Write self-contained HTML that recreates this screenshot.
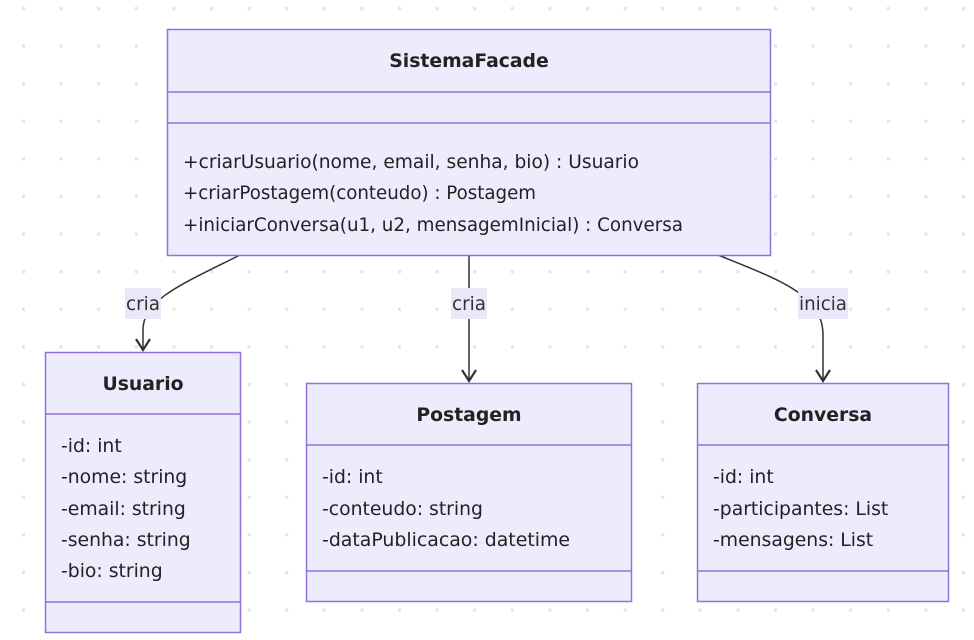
<!DOCTYPE html>
<html><head><meta charset="utf-8"><style>
html,body{margin:0;padding:0;background:#fff;}
svg{display:block;}
text{font-family:"DejaVu Sans","Liberation Sans",sans-serif;font-size:18.8px;fill:#222;}
.t{font-weight:bold;text-anchor:middle;}
.lbl{text-anchor:middle;fill:#333;}
</style></head><body>
<svg width="974" height="640" viewBox="0 0 974 640" xmlns="http://www.w3.org/2000/svg">
<defs>
<pattern id="dots" x="22" y="0" width="37.6" height="37.6" patternUnits="userSpaceOnUse">
<rect x="0" y="7" width="3" height="3" fill="#e3e3e3"/>
</pattern>
</defs>
<rect width="974" height="640" fill="url(#dots)"/>

<!-- edges -->
<path d="M240,255 C180,285 143,300 143,330 L143,349" fill="none" stroke="#333" stroke-width="1.5"/>
<path d="M469,255 L469,380" fill="none" stroke="#333" stroke-width="1.5"/>
<path d="M718,255 C780,280 823,295 823,335 L823,380" fill="none" stroke="#333" stroke-width="1.5"/>
<path d="M136,339 L143,350 L150,339" fill="none" stroke="#333" stroke-width="2.2"/>
<path d="M462,370 L469,381 L476,370" fill="none" stroke="#333" stroke-width="2.2"/>
<path d="M816,370 L823,381 L830,370" fill="none" stroke="#333" stroke-width="2.2"/>
<rect x="125" y="288" width="36" height="31" fill="#e8e8f8"/>
<text class="lbl" x="143" y="310" textLength="34" lengthAdjust="spacingAndGlyphs">cria</text>
<rect x="451" y="288" width="36" height="31" fill="#e8e8f8"/>
<text class="lbl" x="469" y="310" textLength="34" lengthAdjust="spacingAndGlyphs">cria</text>
<rect x="798" y="288" width="50" height="31" fill="#e8e8f8"/>
<text class="lbl" x="823" y="310" textLength="48" lengthAdjust="spacingAndGlyphs">inicia</text>

<!-- SistemaFacade -->
<rect x="167.5" y="29.5" width="603" height="226" fill="#ececfd" stroke="#9370db" stroke-width="1.5"/>
<line x1="167.5" y1="92" x2="770.5" y2="92" stroke="#9370db" stroke-width="1.5"/>
<line x1="167.5" y1="123" x2="770.5" y2="123" stroke="#9370db" stroke-width="1.5"/>
<text class="t" x="469" y="67">SistemaFacade</text>
<text x="183" y="168" textLength="456" lengthAdjust="spacingAndGlyphs">+criarUsuario(nome, email, senha, bio) : Usuario</text>
<text x="183" y="199" textLength="353" lengthAdjust="spacingAndGlyphs">+criarPostagem(conteudo) : Postagem</text>
<text x="183" y="231" textLength="500" lengthAdjust="spacingAndGlyphs">+iniciarConversa(u1, u2, mensagemInicial) : Conversa</text>

<!-- Usuario -->
<rect x="45.5" y="352.5" width="195" height="280" fill="#ececfd" stroke="#9370db" stroke-width="1.5"/>
<line x1="45.5" y1="414" x2="240.5" y2="414" stroke="#9370db" stroke-width="1.5"/>
<line x1="45.5" y1="602" x2="240.5" y2="602" stroke="#9370db" stroke-width="1.5"/>
<text class="t" x="143" y="390">Usuario</text>
<text x="61" y="452">-id: int</text>
<text x="61" y="483">-nome: string</text>
<text x="61" y="515">-email: string</text>
<text x="61" y="546">-senha: string</text>
<text x="61" y="577">-bio: string</text>

<!-- Postagem -->
<rect x="306.5" y="383.5" width="325" height="218" fill="#ececfd" stroke="#9370db" stroke-width="1.5"/>
<line x1="306.5" y1="445" x2="631.5" y2="445" stroke="#9370db" stroke-width="1.5"/>
<line x1="306.5" y1="571" x2="631.5" y2="571" stroke="#9370db" stroke-width="1.5"/>
<text class="t" x="469" y="421">Postagem</text>
<text x="322" y="483">-id: int</text>
<text x="322" y="515">-conteudo: string</text>
<text x="322" y="546" textLength="248" lengthAdjust="spacingAndGlyphs">-dataPublicacao: datetime</text>

<!-- Conversa -->
<rect x="697.5" y="383.5" width="251" height="218" fill="#ececfd" stroke="#9370db" stroke-width="1.5"/>
<line x1="697.5" y1="445" x2="948.5" y2="445" stroke="#9370db" stroke-width="1.5"/>
<line x1="697.5" y1="571" x2="948.5" y2="571" stroke="#9370db" stroke-width="1.5"/>
<text class="t" x="823" y="421">Conversa</text>
<text x="713" y="483">-id: int</text>
<text x="713" y="515">-participantes: List</text>
<text x="713" y="546">-mensagens: List</text>
</svg>
</body></html>
